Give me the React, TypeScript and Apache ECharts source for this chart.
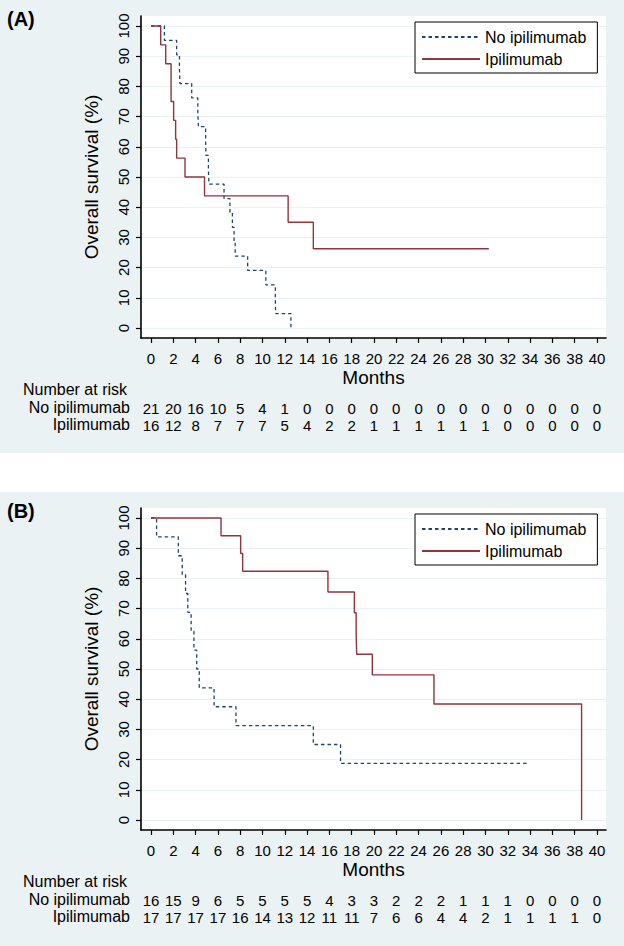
import React, { useEffect, useRef } from "react";
import * as echarts from "echarts";

// ---------- data ----------
const monthTicks = [0, 2, 4, 6, 8, 10, 12, 14, 16, 18, 20, 22, 24, 26, 28, 30, 32, 34, 36, 38, 40];
const survivalTicks = [0, 10, 20, 30, 40, 50, 60, 70, 80, 90, 100];
const seriesNames = ["No ipilimumab", "Ipilimumab"];

// Panel A
const monthsA_noIpi = [0, 1.2, 2.3, 2.55, 2.6, 3.65, 4.2, 4.25, 4.9, 4.93, 5.15, 5.2, 6.55, 7.08, 7.3, 7.45, 7.55, 8.67, 10.3, 11.15, 11.18, 12.55];
const survA_noIpi = [100, 95.24, 90.48, 85.71, 80.95, 76.19, 71.43, 66.67, 61.9, 57.14, 52.38, 47.62, 42.86, 38.1, 33.33, 28.57, 23.81, 19.05, 14.29, 9.52, 4.76, 0];
const monthsA_ipi = [0, 0.87, 1.32, 1.8, 2.03, 2.21, 2.3, 3.05, 4.8, 12.3, 14.56, 30.3];
const survA_ipi = [100, 93.75, 87.5, 75, 68.75, 62.5, 56.25, 50, 43.75, 35, 26.25, 26.25];
const atRiskA_noIpi = [21, 20, 16, 10, 5, 4, 1, 0, 0, 0, 0, 0, 0, 0, 0, 0, 0, 0, 0, 0, 0];
const atRiskA_ipi = [16, 12, 8, 7, 7, 7, 5, 4, 2, 2, 1, 1, 1, 1, 1, 1, 0, 0, 0, 0, 0];

// Panel B
const monthsB_noIpi = [0, 0.5, 2.45, 2.8, 3.1, 3.3, 3.6, 3.85, 4.1, 4.33, 5.66, 7.62, 14.56, 17.0, 33.8];
const survB_noIpi = [100, 93.75, 87.5, 81.25, 75, 68.75, 62.5, 56.25, 50, 43.75, 37.5, 31.25, 25, 18.75, 18.75];
const monthsB_ipi = [0, 6.28, 8.04, 8.22, 15.87, 18.24, 18.4, 18.45, 19.85, 25.38, 38.62];
const survB_ipi = [100, 94.12, 88.24, 82.35, 75.49, 68.63, 61.76, 54.9, 48.04, 38.43, 0];
const atRiskB_noIpi = [16, 15, 9, 6, 5, 5, 5, 5, 4, 3, 3, 2, 2, 2, 1, 1, 1, 0, 0, 0, 0];
const atRiskB_ipi = [17, 17, 17, 17, 16, 14, 13, 12, 11, 11, 7, 6, 6, 4, 4, 2, 1, 1, 1, 1, 0];

// ---------- style ----------
const FONT = '"Liberation Sans", Arial, Helvetica, sans-serif';
const NAVY = "#1a476f";
const MAROON = "#90353b";
const BG = "#eaf2f3";
const X_MIN = -0.897;
const X_MAX = 40.81;
const Y_MIN = -3.31;
const Y_MAX = 103.31;

const zip = (xs: number[], ys: number[]) => xs.map((x, i) => [x, ys[i]]);

function buildPanel(p: number, dy: number, label: string,
  noT: number[], noS: number[], ipT: number[], ipS: number[],
  riskNo: number[], riskIp: number[]) {
  const gridIndex = p;
  const grid = {
    left: 141, top: 16 + dy, width: 465, height: 322,
    show: true, backgroundColor: "#ffffff", borderWidth: 0, containLabel: false,
  };
  const mainX = {
    type: "value", gridIndex, min: X_MIN, max: X_MAX, position: "bottom",
    axisLine: { show: true, onZero: false, lineStyle: { color: "#000", width: 1.6 } },
    axisTick: { show: true, length: 5, customValues: monthTicks, lineStyle: { color: "#000", width: 1.2 } },
    axisLabel: { customValues: monthTicks, margin: 13, fontSize: 15, color: "#000", fontFamily: FONT },
    splitLine: { show: false },
    name: "Months", nameLocation: "middle", nameGap: 30,
    nameTextStyle: { fontSize: 19, color: "#000", fontFamily: FONT },
  };
  const rowAxis = (offset: number, arr: number[]) => ({
    type: "value", gridIndex, min: X_MIN, max: X_MAX, position: "bottom", offset,
    axisLine: { show: false }, axisTick: { show: false }, splitLine: { show: false },
    axisLabel: {
      customValues: monthTicks, margin: 0, verticalAlign: "middle", fontSize: 15, color: "#000", fontFamily: FONT,
      formatter: (v: number) => String(arr[Math.round(v / 2)]),
    },
  });
  const yAxis = {
    type: "value", gridIndex, min: Y_MIN, max: Y_MAX,
    axisLine: { show: true, onZero: false, lineStyle: { color: "#000", width: 1.6 } },
    axisTick: { show: true, length: 5, customValues: survivalTicks, lineStyle: { color: "#000", width: 1.2 } },
    axisLabel: { customValues: survivalTicks, rotate: 90, margin: 10, fontSize: 15, color: "#000", fontFamily: FONT },
    splitLine: { show: true, lineStyle: { color: BG, width: 1.2 } },
    name: "Overall survival (%)", nameLocation: "middle", nameGap: 40,
    nameTextStyle: { fontSize: 19, color: "#000", fontFamily: FONT },
  };
  const xBase = p * 3;
  const series = [
    {
      type: "line", name: seriesNames[0], xAxisIndex: xBase, yAxisIndex: p,
      data: zip(noT, noS), step: "end", symbol: "none", showSymbol: false, z: 3,
      lineStyle: { color: NAVY, width: 1.3, type: [3.5, 3] }, itemStyle: { color: NAVY },
    },
    {
      type: "line", name: seriesNames[1], xAxisIndex: xBase, yAxisIndex: p,
      data: zip(ipT, ipS), step: "end", symbol: "none", showSymbol: false, z: 4,
      lineStyle: { color: MAROON, width: 1.4 }, itemStyle: { color: MAROON },
    },
  ];
  const legend = {
    orient: "vertical", left: 415, top: 22 + dy, data: seriesNames,
    itemWidth: 58, itemHeight: 14, itemGap: 6, padding: [7, 11, 6, 6],
    itemStyle: { opacity: 0, borderWidth: 0 },
    backgroundColor: "#fff", borderColor: "#000", borderWidth: 1, borderRadius: 0,
    textStyle: { fontSize: 16, color: "#000", fontFamily: FONT }, selectedMode: false,
  };
  const graphic = [
    { type: "text", left: 7, top: 9 + dy, style: { text: label, font: `bold 20px ${FONT}`, fill: "#000" } },
    { type: "text", left: 23, top: 381 + dy, style: { text: "Number at risk", font: `16px ${FONT}`, fill: "#000" } },
    { type: "text", right: 494, top: 399 + dy, style: { text: seriesNames[0], font: `16px ${FONT}`, fill: "#000" } },
    { type: "text", right: 494, top: 416 + dy, style: { text: seriesNames[1], font: `16px ${FONT}`, fill: "#000" } },
  ];
  return {
    grid, xAxes: [mainX, rowAxis(70, riskNo), rowAxis(87, riskIp)],
    yAxis, series, legend, graphic,
  };
}

export default function App() {
  const ref = useRef<HTMLDivElement>(null);
  useEffect(() => {
    if (!ref.current) return;
    const chart = echarts.init(ref.current, undefined, { renderer: "svg" });
    const A = buildPanel(0, 0, "(A)", monthsA_noIpi, survA_noIpi, monthsA_ipi, survA_ipi, atRiskA_noIpi, atRiskA_ipi);
    const B = buildPanel(1, 492, "(B)", monthsB_noIpi, survB_noIpi, monthsB_ipi, survB_ipi, atRiskB_noIpi, atRiskB_ipi);
    chart.setOption({
      animation: false,
      backgroundColor: BG,
      grid: [A.grid, B.grid],
      xAxis: [...A.xAxes, ...B.xAxes],
      yAxis: [A.yAxis, B.yAxis],
      series: [...A.series, ...B.series],
      legend: [A.legend, B.legend],
      graphic: [
        { type: "rect", left: 0, top: 453, shape: { width: 624, height: 39 }, style: { fill: "#fff" }, z: -10 },
        ...A.graphic, ...B.graphic,
      ],
    } as any);
    return () => chart.dispose();
  }, []);
  return <div ref={ref} style={{ position: "absolute", left: 0, top: 0, width: 624, height: 946 }} />;
}
